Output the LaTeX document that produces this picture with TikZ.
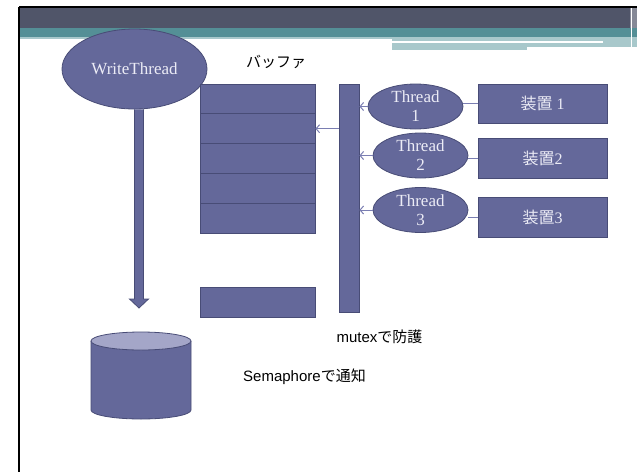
\documentclass[tikz,border=0pt]{standalone}
\usepackage{fontspec}
\setmainfont{Liberation Serif}
\setsansfont{Liberation Sans}
\newfontfamily\jp{Noto Sans CJK JP}
\usetikzlibrary{arrows.meta,shapes.geometric}
\definecolor{slate}{RGB}{100,104,154}
\definecolor{slatetop}{RGB}{164,166,200}
\definecolor{slateline}{RGB}{72,76,118}
\definecolor{slatetext}{RGB}{236,236,246}
\definecolor{linkcol}{RGB}{122,126,178}
\definecolor{banddark}{RGB}{80,85,105}
\definecolor{bandteal}{RGB}{84,143,150}
\definecolor{bandpale}{RGB}{168,200,203}
\tikzset{
  block/.style={draw=slateline,fill=slate,line width=0.8pt,inner sep=0pt,text=slatetext,
    font=\fontsize{17}{19}\selectfont},
  oval/.style={block,ellipse},
  cell/.style={block,rectangle,minimum width=115pt,minimum height=29.8pt},
  device/.style={block,rectangle,minimum width=129pt,font=\fontsize{16}{19}\selectfont},
  link/.style={draw=linkcol,line width=1pt},
  barb/.style={-{Straight Barb[length=3.5pt,width=8pt]}},
  note/.style={font=\sffamily\fontsize{15}{18}\selectfont,inner sep=0pt}
}
\begin{document}
\begin{tikzpicture}[x=1pt,y=-1pt]
\useasboundingbox (0,0) rectangle (637,472);
\fill[banddark] (19,7) rectangle (630,28);
\fill[banddark!70!white] (630,7) rectangle (637,28);
\fill[bandteal] (19,28) rectangle (637,37);
\fill[bandpale] (19,37) rectangle (637,39);
\fill[bandpale] (392,37) rectangle (637,47);
\fill[bandpale] (392,47) rectangle (527,50);
\fill[white] (392,41) rectangle (603,43);
\draw[white,line width=0.6pt] (631,7) -- (631,47);
\draw[black,line width=1.4pt] (19,7) -- (637,7);
\draw[black,line width=1.2pt] (19,7) -- (19,472);

\node[oval,minimum width=145pt,minimum height=80pt] (wt) at (134.5,69) {WriteThread};
\coordinate (tip) at (139,308);
\filldraw[block] (wt.south) -- ([xshift=-4.5pt,yshift=9pt]tip) -- ([xshift=-9.5pt,yshift=9pt]tip)
  -- (tip) -- ([xshift=9.5pt,yshift=9pt]tip) -- ([xshift=4.5pt,yshift=9pt]tip) -- ([xshift=9pt]wt.south);

\coordinate (db) at (141,341);
\filldraw[block] (91,341) -- (91,410) arc[start angle=180,end angle=0,x radius=50,y radius=9] -- (191,341);
\filldraw[block,fill=slatetop] (db) ellipse [x radius=50,y radius=9];

\foreach \i in {1,...,5}
  \node[cell] (buf\i) at (257.5,{69.1+29.8*\i}) {};
\node[cell,minimum height=30pt] (buf6) at (257.5,302) {};

\node[block,minimum width=20pt,minimum height=228pt] (mutex) at (349,198) {};

\foreach \i/\x/\y in {1/415.5/106.5,2/420.5/155.5,3/420.5/210}
  \node[oval,minimum width=95pt,minimum height=45pt,align=center,text depth=-2pt] (th\i) at (\x,\y) {Thread\\\i};

\node[device,minimum height=39pt] (dev1) at (542.5,103.5) {{\jp 装置} 1};
\node[device,minimum height=40pt] (dev2) at (542.5,158) {{\jp 装置}2};
\node[device,minimum height=40pt] (dev3) at (542.5,217) {{\jp 装置}3};

\foreach \i in {1,2,3} {
  \draw[link,barb] (th\i.west) -- (mutex.east |- th\i.west);
  \draw[link] (dev\i.west) -- (th\i.east |- dev\i.west);
}
\draw[link,barb] (mutex.west |- buf2.east) -- (buf2.east);

\node[note] (buflabel) at (276,62) {\jp バッファ};
\node[note] (mutexlabel) at (379.5,337) {mutex{\jp で防護}};
\node[note] (semlabel) at (304.5,377) {Semaphore{\jp で通知}};
\end{tikzpicture}
\end{document}
